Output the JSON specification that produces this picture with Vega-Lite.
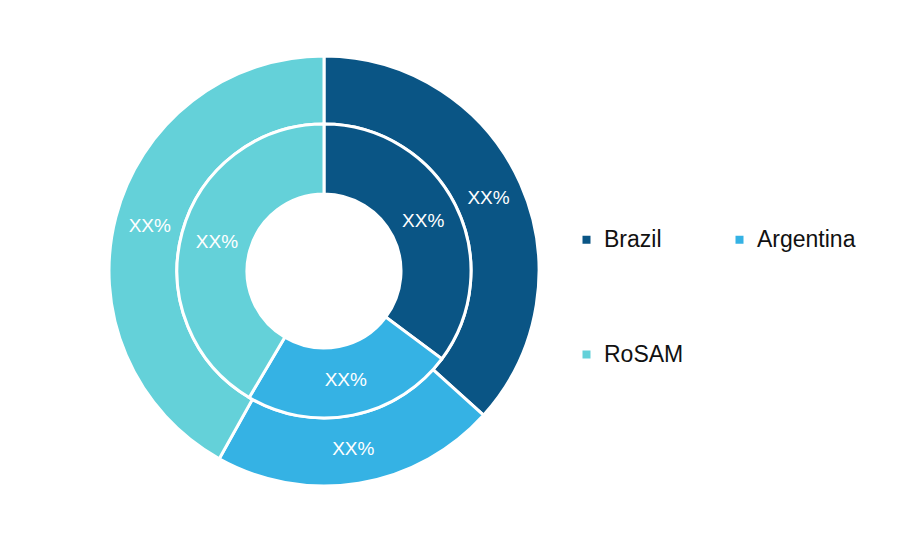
{
  "$schema": "https://vega.github.io/schema/vega-lite/v6.json",
  "width": 648,
  "height": 542,
  "padding": 0,
  "autosize": {"type": "pad"},
  "background": "white",
  "config": {"view": {"stroke": null}},
  "data": {"values": [
    {"ring": "outer", "country": "Brazil", "value": 36.7, "label": "XX%"},
    {"ring": "outer", "country": "Argentina", "value": 21.4, "label": "XX%"},
    {"ring": "outer", "country": "RoSAM", "value": 41.9, "label": "XX%"},
    {"ring": "inner", "country": "Brazil", "value": 35.2, "label": "XX%"},
    {"ring": "inner", "country": "Argentina", "value": 23.3, "label": "XX%"},
    {"ring": "inner", "country": "RoSAM", "value": 41.5, "label": "XX%"}
  ]},
  "encoding": {
    "theta": {"field": "value", "type": "quantitative", "stack": true},
    "order": {"field": "order", "type": "quantitative"},
    "color": {
      "field": "country", "type": "nominal",
      "scale": {"domain": ["Brazil", "RoSAM", "Argentina"], "range": ["#0A5585", "#64D1D9", "#35B2E4"]},
      "legend": {
        "title": null, "orient": "none", "legendX": 575, "legendY": 228,
        "columns": 2, "columnPadding": 44, "rowPadding": 91,
        "symbolType": "square", "symbolSize": 64, "symbolStrokeWidth": 0,
        "labelFont": "Liberation Sans", "labelFontSize": 23, "labelColor": "#111111",
        "labelOffset": 6, "labelLimit": 300
      }
    }
  },
  "transform": [
    {"calculate": "indexof(['Brazil','Argentina','RoSAM'], datum.country)", "as": "order"}
  ],
  "layer": [
    {
      "transform": [{"filter": "datum.ring === 'outer'"}],
      "layer": [
        {"mark": {"type": "arc", "radius": 215, "radius2": 147, "stroke": "white", "strokeWidth": 3}},
        {"mark": {"type": "text", "radius": 180, "fill": "white", "fontSize": 19, "font": "Liberation Sans"},
         "encoding": {"text": {"field": "label"}, "color": {"value": "white"}}}
      ]
    },
    {
      "transform": [{"filter": "datum.ring === 'inner'"}],
      "layer": [
        {"mark": {"type": "arc", "radius": 147, "radius2": 77, "stroke": "white", "strokeWidth": 3}},
        {"mark": {"type": "text", "radius": 111, "fill": "white", "fontSize": 19, "font": "Liberation Sans"},
         "encoding": {"text": {"field": "label"}, "color": {"value": "white"}}}
      ]
    }
  ]
}
